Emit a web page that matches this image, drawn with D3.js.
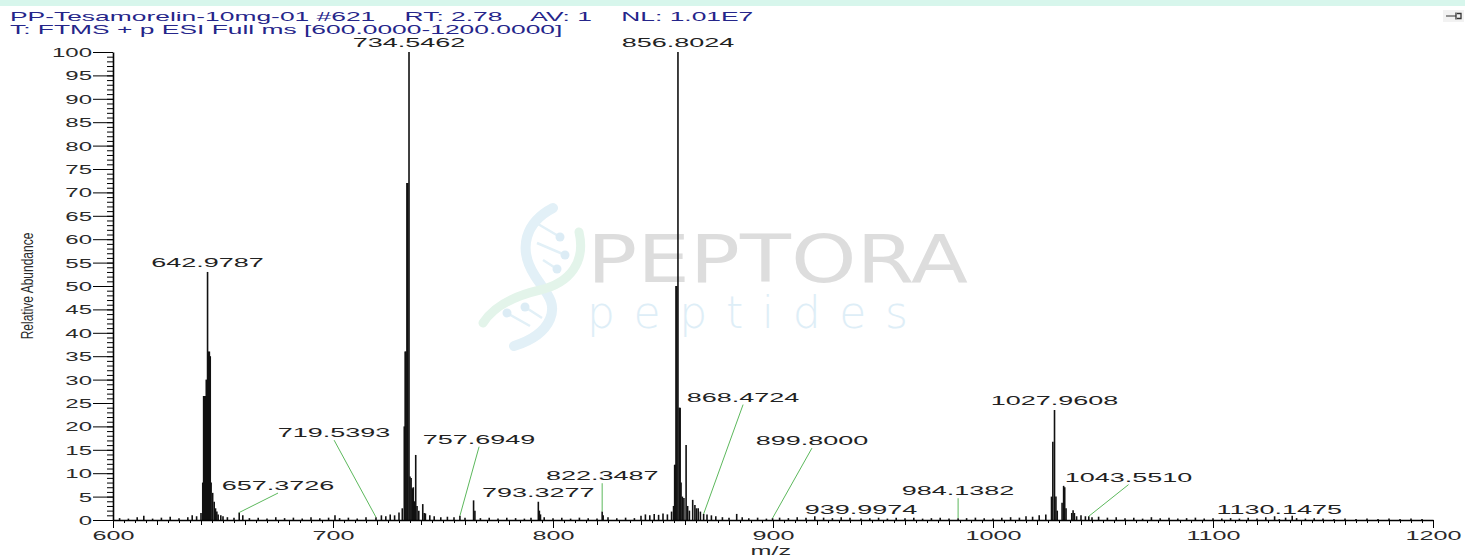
<!DOCTYPE html>
<html>
<head>
<meta charset="utf-8">
<script src="https://cdn.jsdelivr.net/npm/d3@7"></script>
<style>
  html, body { margin: 0; padding: 0; background: #fff; }
  svg { display: block; font-family: "Liberation Sans", Arial, sans-serif; }
</style>
</head>
<body>
<svg id="chart" width="1465" height="556"></svg>
<script>
// ---- header text
var headerLine1 = "PP-Tesamorelin-10mg-01 #621    RT: 2.78    AV: 1    NL: 1.01E7";
var headerLine2 = "T: FTMS + p ESI Full ms [600.0000-1200.0000]";

// ---- axes
var xDomain = [600, 1200];
var yDomain = [0, 100];
var xMajorTicks = [600, 700, 800, 900, 1000, 1100, 1200];
var yMajorTicks = [0, 5, 10, 15, 20, 25, 30, 35, 40, 45, 50, 55, 60, 65, 70, 75, 80, 85, 90, 95, 100];
var xTitle = "m/z";
var yTitle = "Relative Abundance";

// ---- peaks, [m/z, relative abundance]
var cluster643 = [[640.8, 8], [641.2, 26.5], [641.6, 26.5], [642.0, 26.5], [642.4, 30], [642.98, 53],
  [643.4, 36], [643.8, 36], [644.2, 35], [644.6, 8], [645.3, 5.8], [646.0, 3.9], [646.6, 2.5], [647.2, 1.8]];
var cluster735 = [[732.4, 20], [732.8, 36], [733.2, 36], [733.6, 72], [734.0, 72], [734.55, 100],
  [735.0, 9.3], [735.5, 9], [736.0, 6.8], [736.5, 7], [737.0, 4], [737.6, 13.9], [738.2, 3],
  [740.8, 3.4], [741.5, 1.5]];
var cluster857 = [[853.9, 1.8], [854.8, 3], [855.3, 11.8], [855.6, 11.8], [855.9, 50], [856.3, 50],
  [856.8, 100], [857.4, 24], [857.8, 24], [858.2, 8], [858.8, 5], [859.5, 4.7], [860.5, 16],
  [861.2, 3], [862.0, 2], [863.5, 4.3], [864.5, 3.2], [865.2, 2.5]];
var cluster1028 = [[1026.6, 5], [1027.2, 16.7], [1027.96, 23.5], [1028.6, 5], [1029.2, 2], [1031.4, 3.7],
  [1032.1, 7.3], [1032.6, 7], [1033.2, 2.5], [1035.8, 1.5], [1036.4, 2.1], [1037.0, 1.5], [1038.0, 0.8]];
var minorPeaks = [[657.37, 1.6], [763.9, 4.2], [764.5, 2.0], [793.33, 3.9], [793.8, 2.0], [794.3, 1.2],
  [822.35, 1.8], [822.8, 1.0], [883.5, 1.3], [1130.15, 0.2]];
var noisePeaks = [[603, 0.4], [607, 0.3], [611, 0.6], [614, 0.9], [618, 0.3], [622, 0.5], [626, 0.7],
  [630, 0.4], [634, 0.6], [636, 1.0], [638, 0.8], [640, 1.5], [647.8, 1.2], [649, 1.0], [650, 0.8],
  [652, 0.6], [655, 0.5], [659, 1.0], [662, 0.4], [666, 0.5], [670, 0.3], [674, 0.6], [678, 0.4],
  [682, 0.5], [686, 0.3], [690, 0.6], [694, 0.4], [698, 0.5], [700.9, 1.0], [703, 0.4], [707, 0.5],
  [711, 0.3], [715, 0.6], [719.54, 0.6], [722, 1.0], [724, 0.8], [726, 1.2], [728, 1.0], [730, 1.6],
  [731.5, 2.5], [739, 2.0], [742, 1.4], [744, 1.0], [746, 0.8], [749, 0.6], [752, 0.7], [755, 0.6],
  [757.69, 0.9], [760, 0.5], [767, 0.4], [771, 0.5], [775, 0.3], [779, 0.5], [783, 0.4], [787, 0.3],
  [790, 0.5], [796, 0.6], [800, 0.4], [804, 0.5], [808, 0.3], [812, 0.5], [816, 0.4], [820, 0.3],
  [825, 0.6], [829, 0.4], [833, 0.5], [837, 0.4], [840, 0.9], [842, 1.2], [844, 1.0], [846, 1.3],
  [848, 1.1], [850, 1.4], [852, 1.2], [866, 2.5], [867, 1.8], [868.47, 1.3], [870, 1.2], [872, 1.0],
  [874, 0.8], [877, 0.6], [880, 0.5], [886, 0.6], [889, 0.4], [893, 0.5], [897, 0.3], [899.8, 0.4],
  [903, 0.5], [907, 0.4], [911, 0.6], [915, 0.5], [919, 0.8], [923, 0.5], [927, 0.4], [931, 0.6],
  [935, 0.5], [940, 0.3], [944, 0.4], [948, 0.5], [952, 0.3], [956, 0.5], [960, 0.4], [964, 0.5],
  [968, 0.3], [972, 0.4], [976, 0.5], [980, 0.3], [984.14, 0.4], [988, 0.4], [992, 0.5], [996, 0.4],
  [1000, 0.3], [1004, 0.5], [1008, 0.6], [1012, 0.5], [1015, 0.8], [1018, 0.7], [1021, 1.0], [1024, 1.2],
  [1040, 1.0], [1042, 0.8], [1043.55, 0.8], [1045, 0.6], [1048, 0.7], [1052, 0.5], [1056, 0.6],
  [1060, 0.4], [1064, 0.5], [1068, 0.3], [1072, 0.6], [1076, 0.4], [1080, 0.5], [1084, 0.3],
  [1088, 0.4], [1092, 0.5], [1096, 0.3], [1100, 0.4], [1104, 0.3], [1108, 0.4], [1112, 0.3],
  [1116, 0.5], [1120, 0.3], [1124, 0.6], [1128, 0.8], [1133, 0.5], [1136, 0.9], [1138, 0.4],
  [1142, 0.3], [1146, 0.4], [1150, 0.3], [1155, 0.2], [1160, 0.3], [1165, 0.2], [1170, 0.3],
  [1175, 0.2], [1180, 0.3], [1185, 0.2], [1190, 0.3], [1195, 0.2]];

// ---- peak labels: peak m/z and its height; labelMz/labelAt give where a
// label sits when it is pulled away from its peak with a leader line
var peakLabels = [
  { text: "642.9787", mz: 642.98, at: 53 },
  { text: "657.3726", mz: 657.37, at: 1.6, labelMz: 675.0, labelAt: 6.4 },
  { text: "719.5393", mz: 719.54, at: 0.6, labelMz: 700.5, labelAt: 17.7 },
  { text: "734.5462", mz: 734.55, at: 100 },
  { text: "757.6949", mz: 757.69, at: 0.9, labelMz: 766.4, labelAt: 16.3 },
  { text: "793.3277", mz: 793.33, at: 3.9 },
  { text: "822.3487", mz: 822.35, at: 1.8, labelMz: 822.35, labelAt: 8.5 },
  { text: "856.8024", mz: 856.8, at: 100 },
  { text: "868.4724", mz: 868.47, at: 1.3, labelMz: 886.4, labelAt: 25.3 },
  { text: "899.8000", mz: 899.8, at: 0.4, labelMz: 917.7, labelAt: 16.0 },
  { text: "939.9974", mz: 940.0, at: 0.3 },
  { text: "984.1382", mz: 984.14, at: 0.4, labelMz: 984.14, labelAt: 5.3 },
  { text: "1027.9608", mz: 1027.96, at: 23.5 },
  { text: "1043.5510", mz: 1043.55, at: 0.8, labelMz: 1061.6, labelAt: 8.2 },
  { text: "1130.1475", mz: 1130.15, at: 0.2 }
];

var peaks = noisePeaks.concat(minorPeaks, cluster643, cluster735, cluster857, cluster1028);

// the picture is stretched sideways, so all text gets a horizontal scale
var svg = d3.select("#chart");
var x = d3.scaleLinear().domain(xDomain).range([113, 1433]);
var y = d3.scaleLinear().domain(yDomain).range([520, 52]);

// top band
svg.append("rect").attr("x", 0).attr("y", 0).attr("width", 1465).attr("height", 6).attr("fill", "#d7f6ec");

// little pin icon top right
var pin = svg.append("g").attr("stroke", "#333").attr("fill", "none");
pin.append("rect").attr("x", 1443).attr("y", 10).attr("width", 21).attr("height", 12).attr("fill", "#f2f2f2").attr("stroke", "none");
pin.append("line").attr("x1", 1446).attr("x2", 1456).attr("y1", 16).attr("y2", 16);
pin.append("path").attr("d", "M1456,12.5V19.5M1457,13.5h4v5h-4").attr("stroke-width", 1.3);

// header
svg.append("text").attr("transform", "translate(10,21) scale(2.2,1)")
  .attr("font-size", 12).attr("fill", "#25258a").style("white-space", "pre").text(headerLine1);
svg.append("text").attr("transform", "translate(10,33.5) scale(2.2,1)")
  .attr("font-size", 12).attr("fill", "#25258a").text(headerLine2);

// watermark (drawn faint, behind the spectrum)
var wm = svg.append("g");
wm.append("path").attr("d", "M553,208 C526,222 517,248 535,276 C546,293 557,302 550,319 C544,333 530,341 514,346")
  .attr("fill", "none").attr("stroke", "#e2f0f7").attr("stroke-width", 10).attr("stroke-linecap", "round");
wm.append("path").attr("d", "M579,232 C586,262 570,283 540,290 C514,296 494,306 483,323")
  .attr("fill", "none").attr("stroke", "#e3f4ea").attr("stroke-width", 9).attr("stroke-linecap", "round");
var dots = [[560, 237, 538, 224], [565, 255, 537, 243], [557, 269, 543, 260], [525, 307, 542, 318], [507, 313, 530, 326]];
wm.selectAll("line.dna").data(dots).join("line").attr("class", "dna")
  .attr("x1", function(d) { return d[0]; }).attr("y1", function(d) { return d[1]; })
  .attr("x2", function(d) { return d[2]; }).attr("y2", function(d) { return d[3]; })
  .attr("stroke", "#e2f0f7").attr("stroke-width", 2.5);
wm.selectAll("circle").data(dots).join("circle")
  .attr("cx", function(d) { return d[0]; }).attr("cy", function(d) { return d[1]; })
  .attr("r", 4.5).attr("fill", "#dcecf5");
wm.append("text").attr("x", 587).attr("y", 282).attr("font-size", 66).attr("fill", "#dddddd")
  .attr("font-family", "'DejaVu Sans', sans-serif")
  .attr("textLength", 381).attr("lengthAdjust", "spacingAndGlyphs").text("PEPTORA");
wm.append("text").attr("x", 587).attr("y", 328).attr("font-size", 44).attr("fill", "#deeef7")
  .attr("font-family", "'DejaVu Sans', sans-serif").attr("font-weight", 300)
  .attr("textLength", 321).attr("lengthAdjust", "spacing").text("peptides");

// stems
svg.append("g").selectAll("line").data(peaks).join("line")
  .attr("x1", function(d) { return x(d[0]); }).attr("x2", function(d) { return x(d[0]); })
  .attr("y1", y(0)).attr("y2", function(d) { return y(d[1]); })
  .attr("stroke", "#111").attr("stroke-width", 1.6);

// y axis
var yMinor = svg.append("g").attr("transform", "translate(113,0)")
  .call(d3.axisLeft(y).tickValues(d3.range(0, 101, 1)).tickSize(6).tickFormat(""));
yMinor.select(".domain").remove();
var yAxis = svg.append("g").attr("transform", "translate(113,0)")
  .call(d3.axisLeft(y).tickValues(yMajorTicks).tickSize(20).tickSizeOuter(0).tickFormat(d3.format("d")));
yAxis.select(".domain").attr("stroke-width", 1.6);
yAxis.attr("font-size", 12).attr("font-family", null);
yAxis.selectAll("text").attr("x", 0).attr("dy", null).attr("fill", "#2a2a2a")
  .attr("transform", "translate(-21,4.5) scale(2,1)");

// x axis
var xMinor = svg.append("g").attr("transform", "translate(0,520)")
  .call(d3.axisBottom(x).tickValues(d3.range(600, 1201, 5)).tickSize(3).tickFormat(""));
xMinor.select(".domain").remove();
var xMid = svg.append("g").attr("transform", "translate(0,520)")
  .call(d3.axisBottom(x).tickValues(d3.range(600, 1201, 20)).tickSize(5).tickFormat(""));
xMid.select(".domain").remove();
var xAxis = svg.append("g").attr("transform", "translate(0,520)")
  .call(d3.axisBottom(x).tickValues(xMajorTicks).tickSize(8).tickSizeOuter(0).tickFormat(d3.format("d")));
xAxis.select(".domain").attr("stroke-width", 1.3);
xAxis.attr("font-size", 12).attr("font-family", null);
xAxis.selectAll("text").attr("y", 0).attr("dy", null).attr("fill", "#2a2a2a")
  .attr("transform", "translate(0,20) scale(2.1,1)");

// axis titles
svg.append("text").attr("transform", "translate(" + x(899) + ",555) scale(2.1,1)")
  .attr("text-anchor", "middle").attr("font-size", 12).attr("fill", "#2a2a2a").text(xTitle);
svg.append("text").attr("transform", "translate(33," + y(50) + ") rotate(-90) scale(1,1.45)")
  .attr("text-anchor", "middle").attr("font-size", 12).attr("fill", "#2a2a2a").text(yTitle);

// leaders and peak labels
var lab = svg.append("g");
lab.selectAll("line").data(peakLabels.filter(function(d) { return d.labelMz !== undefined; })).join("line")
  .attr("x1", function(d) { return x(d.mz); }).attr("y1", function(d) { return y(d.at); })
  .attr("x2", function(d) { return x(d.labelMz); }).attr("y2", function(d) { return y(d.labelAt) + 3; })
  .attr("stroke", "#5cb85c").attr("stroke-width", 1);
lab.selectAll("text").data(peakLabels).join("text")
  .attr("transform", function(d) {
    var lx = d.labelMz !== undefined ? x(d.labelMz) : x(d.mz);
    var ly = d.labelMz !== undefined ? y(d.labelAt) : y(d.at) - 5;
    return "translate(" + lx + "," + ly + ") scale(2.25,1)";
  })
  .attr("text-anchor", "middle").attr("font-size", 12).attr("fill", "#222")
  .text(function(d) { return d.text; });
</script>
</body>
</html>
